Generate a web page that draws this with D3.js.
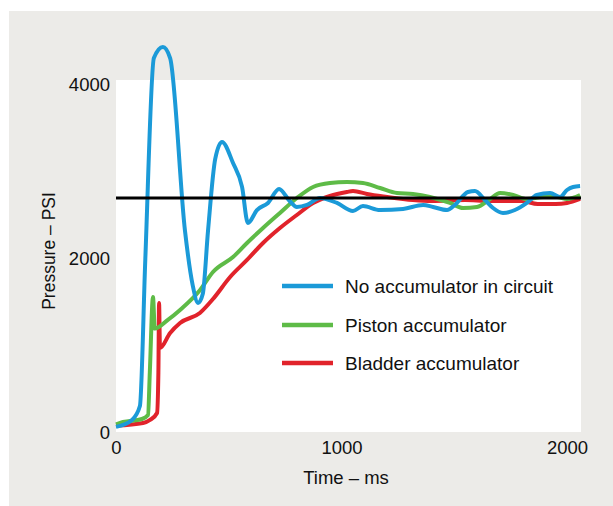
<!DOCTYPE html>
<html lang="en">
<head>
<meta charset="utf-8">
<title>Pressure vs time</title>
<script src="https://d3js.org/d3.v7.min.js"></script>
<style>
body { margin: 0; background: #fff; font-family: "Liberation Sans", Arial, sans-serif; }
.tick text { font-size: 18.5px; fill: #111; }
.legend text { font-size: 19px; fill: #111; }
</style>
</head>
<body>
<svg width="613" height="506"></svg>
<script>
// series names and colours
var seriesNames = ["No accumulator in circuit", "Piston accumulator", "Bladder accumulator"];
var seriesColors = ["#1b9ad8", "#5ebb47", "#e1232b"];

// time (ms) / pressure (psi)
var noAccTime = [0, 71, 106, 130, 168, 208, 240, 306, 340, 364, 385, 408, 440, 470, 519, 559, 585, 625, 674, 723, 772, 802, 847, 905, 980, 1051, 1095, 1171, 1273, 1362, 1406, 1468, 1503, 1561, 1592, 1636, 1672, 1716, 1769, 1822, 1866, 1925, 1969, 2000, 2027, 2058];
var noAccPsi  = [70, 150, 310, 2000, 4310, 4437, 4310, 2322, 1700, 1494, 1600, 2322, 3150, 3345, 3103, 2828, 2414, 2563, 2644, 2805, 2660, 2598, 2621, 2701, 2644, 2552, 2609, 2563, 2575, 2621, 2598, 2563, 2621, 2770, 2782, 2678, 2586, 2529, 2563, 2644, 2736, 2759, 2713, 2793, 2828, 2839];

var pistonTime = [0, 31, 115, 142, 150, 164, 172, 230, 284, 372, 430, 519, 581, 652, 727, 802, 874, 949, 1024, 1095, 1171, 1246, 1317, 1392, 1481, 1539, 1601, 1659, 1703, 1761, 1822, 1894, 1956, 2000, 2058];
var pistonPsi  = [100, 126, 161, 207, 700, 1563, 1200, 1300, 1414, 1640, 1851, 2023, 2184, 2356, 2529, 2701, 2828, 2874, 2885, 2874, 2816, 2759, 2747, 2713, 2644, 2586, 2598, 2690, 2759, 2736, 2690, 2713, 2713, 2690, 2736];

var bladderTime = [0, 120, 151, 182, 188, 191, 195, 240, 284, 372, 430, 506, 581, 652, 727, 802, 874, 949, 1024, 1051, 1113, 1202, 1317, 1400, 1550, 1650, 1800, 1870, 1950, 2000, 2058];
var bladderPsi  = [85, 115, 150, 230, 700, 1494, 977, 1149, 1264, 1380, 1540, 1793, 1989, 2184, 2356, 2506, 2644, 2724, 2770, 2782, 2747, 2713, 2678, 2667, 2678, 2667, 2667, 2633, 2633, 2644, 2690];

var referencePsi = 2700;
var xTicks = [0, 1000, 2000];
var yTicks = [0, 2000, 4000];
var xTitle = "Time \u2013 ms";
var yTitle = "Pressure \u2013 PSI";

var svg = d3.select("svg");

var x = d3.scaleLinear().domain([0, 2000]).range([116, 567]);
var y = d3.scaleLinear().domain([0, 4000]).range([433, 85]);
var xMax = x.invert(581);

// backgrounds
svg.append("rect").attr("x", 9).attr("y", 11).attr("width", 604).attr("height", 495).attr("fill", "#ecebe8");
svg.append("rect").attr("x", x(0)).attr("y", 80).attr("width", x(xMax) - x(0)).attr("height", 432 - 80).attr("fill", "#fff");

// axes (labels only)
var xAxis = svg.append("g")
    .attr("transform", "translate(0,441)")
    .call(d3.axisBottom(x).tickValues(xTicks).tickSize(0).tickPadding(0).tickFormat(d3.format("d")));
xAxis.select(".domain").remove();
xAxis.selectAll("text").attr("dy", "0.71em").style("font-family", "inherit");

var yAxis = svg.append("g")
    .attr("transform", "translate(110,0)")
    .call(d3.axisLeft(y).tickValues(yTicks).tickSize(0).tickPadding(0).tickFormat(d3.format("d")));
yAxis.select(".domain").remove();
yAxis.selectAll("text").style("font-family", "inherit");

svg.append("text")
    .attr("x", 346).attr("y", 484)
    .attr("text-anchor", "middle")
    .style("font-size", "18.5px").attr("fill", "#111")
    .text(xTitle);

svg.append("text")
    .attr("transform", "translate(55,251) rotate(-90)")
    .attr("text-anchor", "middle")
    .style("font-size", "17.5px").attr("fill", "#111")
    .text(yTitle);

var series = [
  { t: bladderTime, p: bladderPsi, c: seriesColors[2] },
  { t: pistonTime, p: pistonPsi, c: seriesColors[1] },
  { t: noAccTime, p: noAccPsi, c: seriesColors[0] }
];

var line = d3.line()
    .x(function(d) { return x(d[0]); })
    .y(function(d) { return y(d[1]); })
    .curve(d3.curveMonotoneX);

series.forEach(function(s) {
  svg.append("path")
      .datum(d3.zip(s.t, s.p))
      .attr("d", line)
      .attr("fill", "none")
      .attr("stroke", s.c)
      .attr("stroke-width", 4)
      .attr("stroke-linejoin", "round");
});

// reference line sits on top of the curves
svg.append("line")
    .attr("x1", x(0)).attr("x2", x(xMax))
    .attr("y1", y(referencePsi)).attr("y2", y(referencePsi))
    .attr("stroke", "#000").attr("stroke-width", 3);

// legend
var legend = svg.append("g").attr("class", "legend");
var legendY = [286, 325, 363];
seriesNames.forEach(function(name, i) {
  legend.append("line")
      .attr("x1", 282).attr("x2", 333)
      .attr("y1", legendY[i]).attr("y2", legendY[i])
      .attr("stroke", seriesColors[i]).attr("stroke-width", 4.5);
  legend.append("text")
      .attr("x", 345).attr("y", legendY[i])
      .attr("dy", "0.35em")
      .text(name);
});
</script>
</body>
</html>
